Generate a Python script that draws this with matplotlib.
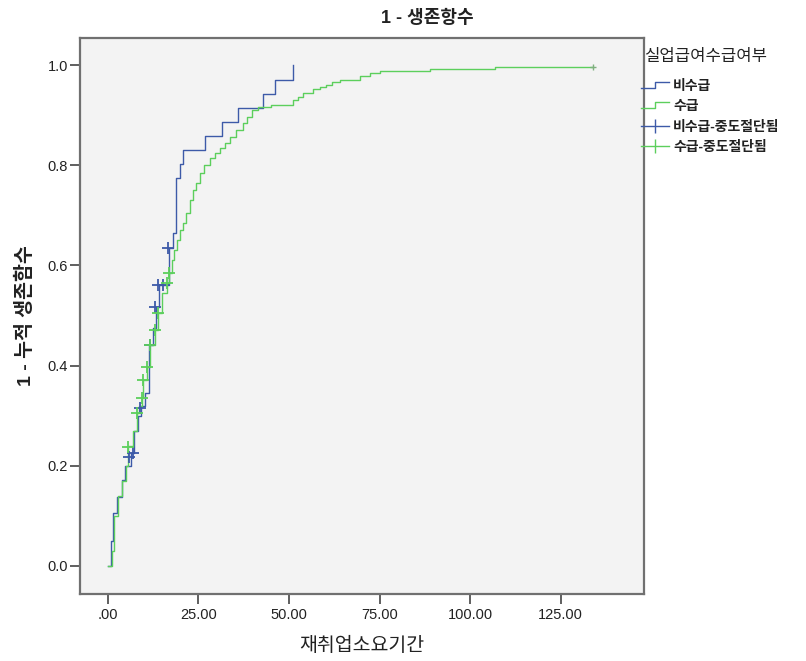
import matplotlib
matplotlib.use("Agg")
import matplotlib.pyplot as plt
from matplotlib.lines import Line2D
from matplotlib.legend_handler import HandlerBase

plt.rcParams['font.family'] = ['Liberation Sans', 'Noto Sans CJK KR', 'DejaVu Sans']

# ---- data (1 - cumulative survival) ----
blue_t = [0, 0.8, 1.5, 2.4, 3.8, 4.7, 6.4, 7.2, 8.2, 9.2, 10.2, 11.3, 12.4, 13.3, 14.2,
          16.9, 18.0, 18.8, 19.9, 20.8, 26.8, 31.6, 35.9, 42.9, 46.1, 51.0]
blue_v = [0.0, 0.05, 0.106, 0.138, 0.172, 0.20, 0.226, 0.27, 0.30, 0.32, 0.345, 0.441, 0.475, 0.517, 0.561,
          0.635, 0.664, 0.774, 0.802, 0.830, 0.858, 0.887, 0.915, 0.942, 0.971, 1.0]
blue_cens_t = [5.9, 7.0, 8.8, 11.6, 13.0, 13.9, 15.3, 16.6]
blue_cens_v = [0.218, 0.226, 0.315, 0.441, 0.517, 0.561, 0.561, 0.635]

green_t = [0, 1.0, 1.8, 2.8, 4.0, 5.0, 5.6, 6.8, 7.9, 8.6, 9.3, 9.7, 10.7, 11.6, 13.0, 13.9,
           15.0, 16.2, 16.9, 17.6, 18.3, 19.0, 19.9, 20.6, 21.5, 22.6, 23.5, 24.4, 25.4, 26.5,
           28.1, 29.5, 30.9, 32.3, 33.7, 35.5, 37.3, 38.5, 39.7, 41.5, 45.0, 51.1, 52.5, 53.9,
           56.6, 58.5, 60.3, 62.0, 64.0, 69.5, 72.3, 75.0, 88.8, 106.8, 133.9]
green_v = [0.0, 0.03, 0.10, 0.14, 0.17, 0.20, 0.24, 0.27, 0.305, 0.32, 0.335, 0.371, 0.398, 0.441, 0.471, 0.505,
           0.545, 0.565, 0.585, 0.61, 0.63, 0.65, 0.67, 0.685, 0.705, 0.73, 0.75, 0.765, 0.784, 0.80,
           0.814, 0.825, 0.834, 0.845, 0.857, 0.87, 0.884, 0.897, 0.91, 0.916, 0.92, 0.93, 0.937, 0.944,
           0.952, 0.956, 0.96, 0.966, 0.971, 0.978, 0.985, 0.989, 0.992, 0.996, 0.996]
green_cens_t = [5.6, 7.9, 9.3, 9.7, 10.7, 11.6, 13.0, 13.9, 16.2, 16.9, 133.9]
green_cens_v = [0.238, 0.305, 0.335, 0.371, 0.398, 0.441, 0.471, 0.505, 0.565, 0.585, 0.996]

x_ticks = [0, 25, 50, 75, 100, 125]
x_tick_labels = ['.00', '25.00', '50.00', '75.00', '100.00', '125.00']
y_ticks = [0.0, 0.2, 0.4, 0.6, 0.8, 1.0]

legend_labels = ['비수급', '수급', '비수급-중도절단됨', '수급-중도절단됨']
title = '1 - 생존항수'
xlabel = '재취업소요기간'
ylabel = '1 - 누적 생존함수'
legend_title = '실업급여수급여부'

BLUE = '#3d5aa8'
GREEN = '#5ccf5c'
W, H = 806, 661

fig = plt.figure(figsize=(W / 100, H / 100), dpi=100)
ax = fig.add_axes([80 / W, 1 - 594 / H, (644 - 80) / W, (594 - 38) / H])
ax.set_facecolor('#f3f3f3')

ax.step(blue_t, blue_v, where='post', color=BLUE, lw=1.0)
ax.step(green_t, green_v, where='post', color=GREEN, lw=1.0)
ax.plot(blue_cens_t, blue_cens_v, linestyle='none', marker='+', ms=8, mew=1.3, color=BLUE)
ax.plot(green_cens_t[:-1], green_cens_v[:-1], linestyle='none', marker='+', ms=8, mew=1.3, color=GREEN)
ax.plot(green_cens_t[-1:], green_cens_v[-1:], linestyle='none', marker='+', ms=4, mew=1.0, color='#7fb07f')

ax.set_xlim(-7.7, 148)
ax.set_ylim(-0.056, 1.054)
ax.set_xticks(x_ticks)
ax.set_xticklabels(x_tick_labels)
ax.set_yticks(y_ticks)
ax.set_yticklabels([f'{v:.1f}' for v in y_ticks])
ax.tick_params(axis='both', labelsize=10.5, colors='#444444', labelcolor='#222222', width=1.2, length=7, pad=1.5)
ax.tick_params(axis='x', pad=3)
for s in ax.spines.values():
    s.set_color('#707070')
    s.set_linewidth(1.6)

ax.set_xlabel(xlabel, fontsize=14, color='#222222', labelpad=11)
ax.set_ylabel(ylabel, fontsize=14, fontweight='bold', color='#222222', labelpad=9)
fig.text(0.53, 1 - 18 / H, title, ha='center', va='center', fontsize=13, fontweight='bold', color='#222222')
fig.text(644 / W, 1 - 57 / H, legend_title, ha='left', va='center', fontsize=12, color='#222222')


class StepHandler(HandlerBase):
    def create_artists(self, legend, orig_handle, xdescent, ydescent, width, height, fontsize, trans):
        c = orig_handle.get_color()
        xs = [0, width * 0.5, width * 0.5, width]
        ys = [height * 0.2, height * 0.2, height * 0.8, height * 0.8]
        l = Line2D([x - xdescent for x in xs], [y - ydescent for y in ys], color=c, lw=1.0, transform=trans)
        return [l]


h1 = Line2D([], [], color=BLUE)
h2 = Line2D([], [], color=GREEN)
h3 = Line2D([], [], color=BLUE, marker='|', ms=10, lw=1.0)
h4 = Line2D([], [], color=GREEN, marker='|', ms=10, lw=1.0)
leg = fig.legend([h1, h2, h3, h4], legend_labels, loc='upper left',
                 bbox_to_anchor=(641 / W, 1 - 79 / H),
                 frameon=False, prop={'size': 10, 'weight': 'bold'},
                 handler_map={h1: StepHandler(), h2: StepHandler()},
                 handlelength=2.0, handletextpad=0.3, labelspacing=0.45,
                 borderpad=0, borderaxespad=0)
for t in leg.get_texts():
    t.set_color('#222222')

fig.savefig('out.png', dpi=100, facecolor='white')
